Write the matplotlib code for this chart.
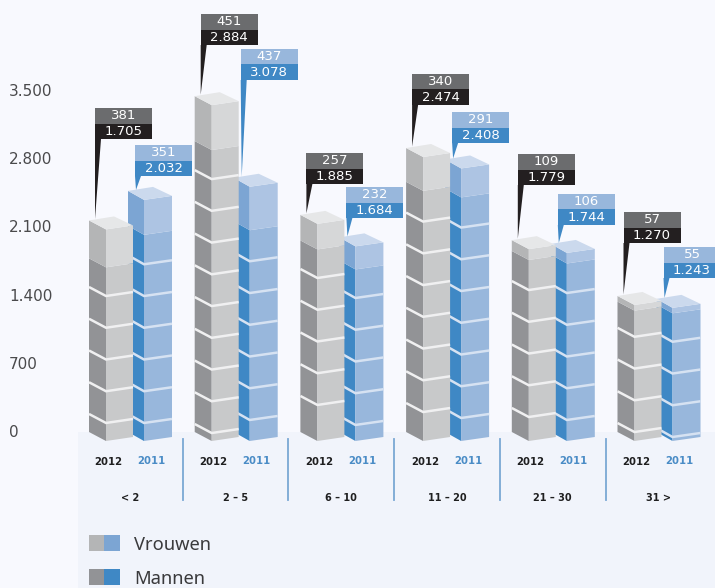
import matplotlib
matplotlib.use("Agg")
import matplotlib.pyplot as plt
from matplotlib.patches import Rectangle

groups = ["< 2", "2 – 5", "6 – 10", "11 – 20", "21 – 30", "31 >"]
vrouwen_2012 = [381, 451, 257, 340, 109, 57]
mannen_2012 = [1705, 2884, 1885, 2474, 1779, 1270]
vrouwen_2011 = [351, 437, 232, 291, 106, 55]
mannen_2011 = [2032, 3078, 1684, 2408, 1744, 1243]
# the 2-5 bar of 2011 is drawn much lower than its label says
mannen_2011_bars = [2032, 2078, 1684, 2408, 1744, 1243]
y_ticks = [0, 700, 1400, 2100, 2800, 3500]
y_tick_labels = ["0", "700", "1.400", "2.100", "2.800", "3.500"]

# where the first white seam sits on each stack (value units)
first_seam_2012 = [141, 40, 322, 251, 201, 50]
first_seam_2011 = [141, 171, 121, 191, 171, 0]
CUBE = 319

# top of the callout boxes, in picture pixels
box_top_2012 = [108, 14, 153, 74, 154, 212]
box_top_2011 = [145, 49, 187, 112, 194, 247]

W, H = 715, 588
PITCH = 105.7
X0 = 89
Y0 = 437
SCALE = 0.0995

BG = "#f8f9fe"
PANEL = "#f1f4fb"

GREY = dict(top="#e6e7e8", up_l="#b4b5b6", up_r="#d6d7d8", lo_l="#929396", lo_r="#c8c9ca", seam="#f0f0f1")
BLUE = dict(top="#cbd9ed", up_l="#7ca5d3", up_r="#adc4e3", lo_l="#3f88c5", lo_r="#98b7dc", seam="#d6e2f2")


def dx(px):
    return px / PITCH


def dy(px):
    return px / SCALE


def vy(py):
    return (Y0 - py) / SCALE


def ux(px):
    return (px - X0) / PITCH


def draw_bar(ax, x, vrouwen, mannen, first_seam, c, z, lft, frt, rgt):
    xl, xf, xr = x + dx(lft), x + dx(frt), x + dx(rgt)
    ol, or_ = dy(9), dy(4)
    base = vy(441)
    total = mannen + vrouwen

    def faces(lo, hi, cl, cr):
        ax.fill([xl, xf, xf, xl], [lo + ol, lo, hi, hi + ol], color=cl, lw=0, zorder=z)
        ax.fill([xf, xr, xr, xf], [lo, lo + or_, hi + or_, hi], color=cr, lw=0, zorder=z)

    faces(base, mannen, c["lo_l"], c["lo_r"])
    faces(mannen, total, c["up_l"], c["up_r"])
    ax.fill([xl, xf, xr, xl + dx(25)], [total + ol, total, total + or_, total + dy(13)],
            color=c["top"], lw=0, zorder=z)

    v = first_seam
    while v < mannen - 100:
        ax.plot([xl, xf, xr], [v + ol, v, v + or_], color=c["seam"], lw=1.8,
                solid_capstyle="butt", solid_joinstyle="miter", zorder=z + 1)
        v += CUBE


def callout(ax, left_px, top_px, tip_x, tip_v, row1, row2, c1, c2):
    w, h = 57, 15.5
    x = ux(left_px)
    ax.add_patch(Rectangle((x, vy(top_px + h)), dx(w), dy(h), color=c1, lw=0, zorder=8))
    ax.add_patch(Rectangle((x, vy(top_px + 2 * h)), dx(w), dy(h), color=c2, lw=0, zorder=8))
    bottom = vy(top_px + 2 * h)
    ax.fill([x, x + dx(6), tip_x], [bottom, bottom, tip_v], color=c2, lw=0, zorder=8)
    ax.text(x + dx(w / 2), vy(top_px + h / 2), row1, color="white", fontsize=9.5,
            ha="center", va="center", zorder=9)
    ax.text(x + dx(w / 2), vy(top_px + 1.5 * h), row2, color="white", fontsize=9.5,
            ha="center", va="center", zorder=9)


def dotted(n):
    return f"{n:,}".replace(",", ".")


fig = plt.figure(figsize=(W / 100, H / 100), dpi=100, facecolor=BG)
plt.rcParams["font.family"] = ["DejaVu Sans"]

ax = fig.add_axes([0, 0, 1, 1], frameon=False)
ax.set_xlim(ux(0), ux(W))
ax.set_ylim(vy(H), vy(0))
ax.set_xticks([])
ax.set_yticks([])

ax.add_patch(Rectangle((ux(78), vy(H)), dx(W - 78), dy(H - 432), color=PANEL, lw=0, zorder=0))

for i in range(len(groups)):
    draw_bar(ax, i, vrouwen_2011[i], mannen_2011_bars[i], first_seam_2011[i], BLUE, 3, 39, 55, 83)
    draw_bar(ax, i, vrouwen_2012[i], mannen_2012[i], first_seam_2012[i], GREY, 5, 0, 17, 44)

    total_12 = vrouwen_2012[i] + mannen_2012[i]
    total_11 = vrouwen_2011[i] + mannen_2011_bars[i]
    callout(ax, X0 + i * PITCH + 6, box_top_2012[i], i + dx(6), total_12 + dy(10.5),
            str(vrouwen_2012[i]), dotted(mannen_2012[i]), "#6b6c6e", "#231f20")
    callout(ax, X0 + i * PITCH + 46, box_top_2011[i], i + dx(47), total_11 + dy(10),
            str(vrouwen_2011[i]), dotted(mannen_2011[i]), "#98b7dc", "#3f88c5")

    ax.text(i + dx(19), vy(462), "2012", color="#1f1f20", fontsize=7.3, fontweight="bold",
            ha="center", va="center", zorder=9)
    ax.text(i + dx(62), vy(461.5), "2011", color="#4a8cc6", fontsize=7.3, fontweight="bold",
            ha="center", va="center", zorder=9)
    ax.text(i + dx(41), vy(498), groups[i], color="#1f1f20", fontsize=7, fontweight="bold",
            ha="center", va="center", zorder=9)
    if i > 0:
        ax.plot([i - dx(12), i - dx(12)], [vy(439), vy(500)], color="#7aa8d4", lw=1.3, zorder=2)

# legend
legend_rows = [("Vrouwen", GREY["up_l"], "#7ca5d3", 535), ("Mannen", GREY["lo_l"], "#3f88c5", 569)]
for name, c1, c2, top in legend_rows:
    ax.add_patch(Rectangle((ux(89), vy(top + 16)), dx(15), dy(16), color=c1, lw=0, zorder=2))
    ax.add_patch(Rectangle((ux(104), vy(top + 16)), dx(16), dy(16), color=c2, lw=0, zorder=2))
    ax.text(ux(134.5), vy(top + 9.5), name, color="#3a3a3c", fontsize=13.2, family="Noto Sans",
            ha="left", va="center", zorder=9)

# y axis has its own scale, a little different from the stacks
ax_y = fig.add_axes([0, 0, 1, 1], frameon=False, zorder=5)
ax_y.patch.set_visible(False)
ax_y.set_xticks([])
ax_y.set_ylim(0 - (H - 431) / (341 / 3500), 431 / (341 / 3500))
ax_y.set_yticks(y_ticks)
ax_y.set_yticklabels(y_tick_labels, ha="left", color="#4a4a4c", fontsize=11)
ax_y.tick_params(axis="y", length=0, pad=-6.5)

fig.savefig("out.png", dpi=100, facecolor=BG)
